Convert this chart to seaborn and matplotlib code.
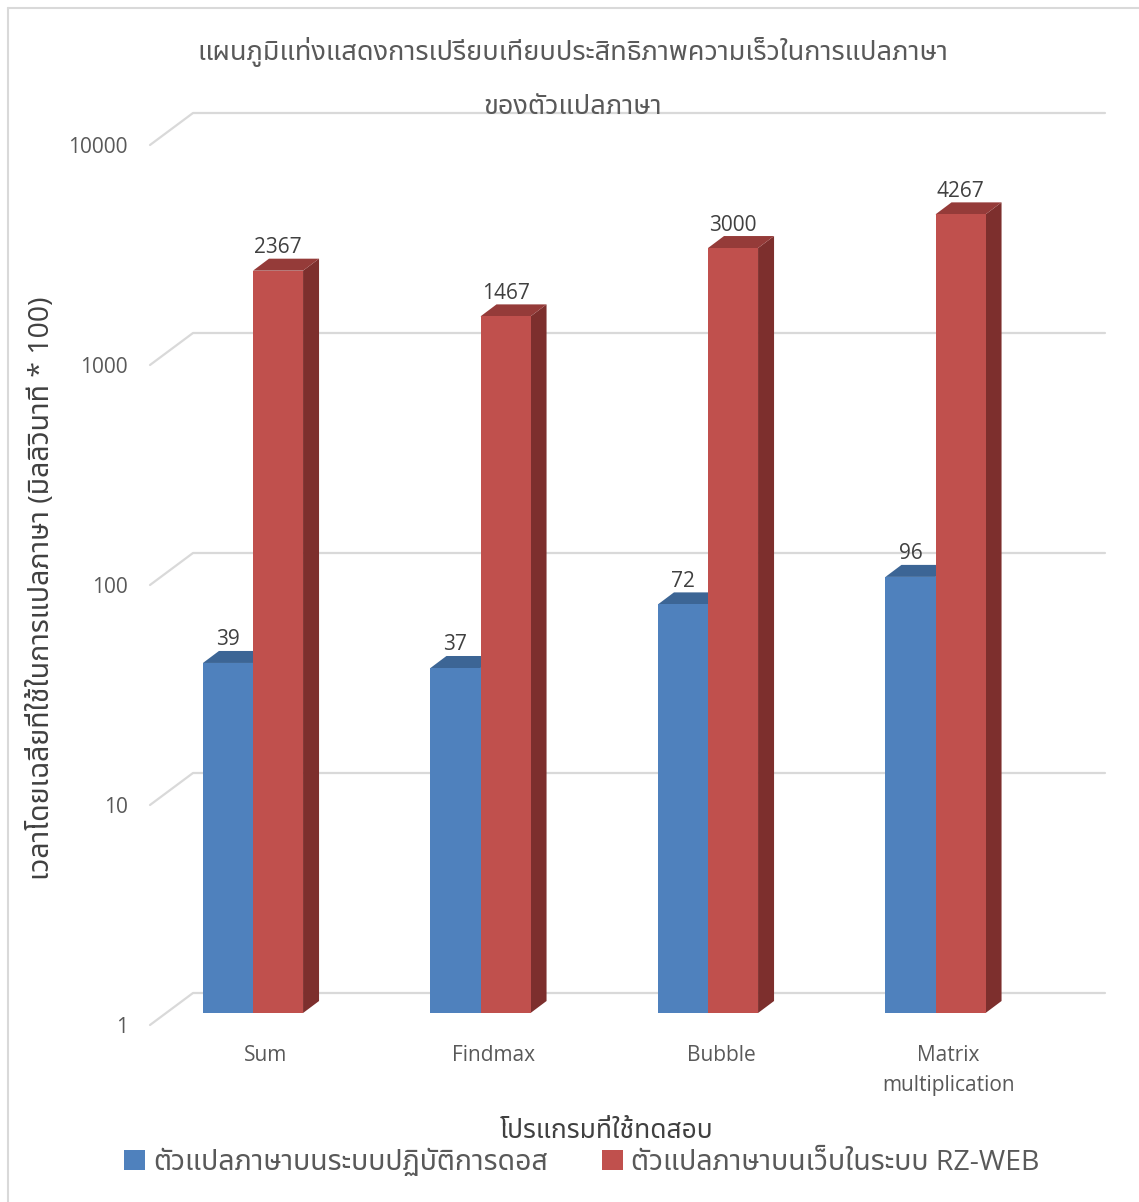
import numpy as np
import pandas as pd
import seaborn as sns
import matplotlib
matplotlib.use("Agg")
import matplotlib.pyplot as plt
from matplotlib import font_manager
from matplotlib.ft2font import FT2Font
from matplotlib.transforms import ScaledTranslation, IdentityTransform
from matplotlib.patches import Polygon, Patch
from matplotlib.lines import Line2D
from matplotlib.ticker import NullLocator

# ---------------- data ----------------
programs = ["Sum", "Findmax", "Bubble", "Matrix\nmultiplication"]
series_names = ["ตัวแปลภาษาบนระบบปฏิบัติการดอส", "ตัวแปลภาษาบนเว็บในระบบ RZ-WEB"]
dos_times = [39, 37, 72, 96]
web_times = [2367, 1467, 3000, 4267]
y_ticks = [1, 10, 100, 1000, 10000]
title_lines = ["แผนภูมิแท่งแสดงการเปรียบเทียบประสิทธิภาพความเร็วในการแปลภาษา", "ของตัวแปลภาษา"]
x_title = "โปรแกรมที่ใช้ทดสอบ"
y_title = "เวลาโดยเฉลี่ยที่ใช้ในการแปลภาษา (มิลลิวินาที * 100)"

front_colors = ["#4F81BD", "#C0504D"]
top_colors = ["#3C6595", "#953B39"]
side_colors = ["#385E8B", "#7D2F2D"]
grid_color = "#D9D9D9"
text_color = "#595959"

# ---------------- fonts ----------------
def thai_fonts():
    names = []
    for f in font_manager.fontManager.ttflist:
        try:
            ft = FT2Font(f.fname)
            if ft.get_char_index(0x0E01):
                names.append(f.name)
        except Exception:
            pass
    return names

cands = thai_fonts()
pref = ["Noto Sans Thai", "Noto Sans Thai UI", "Loma", "Garuda", "Kinnari", "Norasi", "Sarabun"]
thai = None
for p in pref:
    if p in cands:
        thai = p
        break
if thai is None and cands:
    thai = cands[0]

sns.set_theme(style="white")
fam = ["Open Sans"] + ([thai] if thai else []) + ["DejaVu Sans"]
plt.rcParams["font.family"] = fam

W, H = 1139, 1202
fig = plt.figure(figsize=(W / 100, H / 100), dpi=100)
fig.patch.set_facecolor("white")

ax_left, ax_right, ax_bottom, ax_top = 150, 1105, 1013, 115
ax = fig.add_axes([ax_left / W, (H - ax_bottom) / H, (ax_right - ax_left) / W, (ax_bottom - ax_top) / H])
ax.patch.set_visible(False)

df = pd.DataFrame({
    "program": programs * 2,
    "series": [series_names[0]] * len(programs) + [series_names[1]] * len(programs),
    "time": dos_times + web_times,
})

sns.barplot(data=df, x="program", y="time", hue="series", hue_order=series_names,
            palette=front_colors, width=0.44, dodge=True, saturation=1,
            errorbar=None, legend=False, ax=ax, linewidth=0)

px_per_decade = 220
ax.set_yscale("log")
ymax = 10 ** ((ax_bottom - ax_top) / px_per_decade)
ax.set_ylim(1, ymax)
unit = 227.5
ax.set_xlim(-(253 - ax_left) / unit, (ax_right - 253) / unit)
ax.yaxis.set_minor_locator(NullLocator())
ax.set_yticks(y_ticks)
ax.set_yticklabels([str(t) for t in y_ticks])
for s in ax.spines.values():
    s.set_visible(False)
ax.set_xlabel("")
ax.set_ylabel("")
ax.tick_params(axis="y", length=0, pad=16, labelsize=15, labelcolor=text_color)
ax.tick_params(axis="x", length=0, pad=23, labelsize=15, labelcolor=text_color)
for lab in ax.get_yticklabels():
    lab.set_transform(lab.get_transform() + ScaledTranslation(0, -12 / 100, fig.dpi_scale_trans))
for lab in ax.get_xticklabels():
    lab.set_transform(lab.get_transform() + ScaledTranslation(13 / 100, 0, fig.dpi_scale_trans))
    lab.set_linespacing(1.55)

ident = IdentityTransform()
# ---------------- back wall gridlines ----------------
x0_disp = ax.transAxes.transform((0, 0))[0]
x1_disp = ax.transAxes.transform((1, 0))[0]
for t in y_ticks:
    yd = ax.transData.transform((0, t))[1]
    ln = Line2D([x0_disp, x0_disp + 43, x1_disp], [yd - 12, yd + 20, yd + 20],
                transform=ident, color=grid_color, lw=1.6, zorder=0.5, clip_on=False)
    ax.add_line(ln)

# ---------------- 3D faces ----------------
dx, dy = 16, 12
for ci, cont in enumerate(ax.containers):
    for bar in cont:
        bar.set_zorder(3)
        bb = bar.get_bbox()
        (xa, yt) = ax.transData.transform((bb.x0, bb.y1))
        (xb, _) = ax.transData.transform((bb.x1, bb.y1))
        yb = ax.transData.transform((bb.x0, 1))[1]
        top = Polygon([[xa, yt], [xb, yt], [xb + dx, yt + dy], [xa + dx, yt + dy]],
                      closed=True, transform=ident, facecolor=top_colors[ci],
                      edgecolor="none", zorder=2, clip_on=False)
        side = Polygon([[xb, yb], [xb, yt], [xb + dx, yt + dy], [xb + dx, yb + dy]],
                       closed=True, transform=ident, facecolor=side_colors[ci],
                       edgecolor="none", zorder=2, clip_on=False)
        ax.add_patch(side)
        ax.add_patch(top)
    ax.bar_label(cont, labels=[str(int(v)) for v in cont.datavalues], padding=9,
                 fontsize=15, color="#404040")

# ---------------- texts ----------------
fig.text(573 / W, 1 - 52 / H, title_lines[0], ha="center", va="center", fontsize=19.5,
         color=text_color)
fig.text(573 / W, 1 - 107 / H, title_lines[1], ha="center", va="center", fontsize=19.5,
         color=text_color)
fig.text(42 / W, 1 - 588 / H, y_title, ha="center", va="center", rotation=90,
         fontsize=20.5, color="#404040")
fig.text(607 / W, 1 - 1131 / H, x_title, ha="center", va="center", fontsize=19,
         color="#404040")

handles = [Patch(facecolor=c, edgecolor="none") for c in front_colors]
fig.legend(handles, series_names, loc="center", bbox_to_anchor=(582 / W, 1 - 1163 / H),
           ncol=2, frameon=False, fontsize=20.5, handlelength=0.72, handleheight=0.72,
           handletextpad=0.3, columnspacing=1.9, labelcolor=text_color)

# frame
fig.add_artist(Line2D([8 / W, 8 / W], [0, 1 - 8 / H], transform=fig.transFigure, color=grid_color, lw=1.5))
fig.add_artist(Line2D([8 / W, 1], [1 - 8 / H, 1 - 8 / H], transform=fig.transFigure, color=grid_color, lw=1.5))

fig.savefig("out.png", dpi=100, facecolor="white")
